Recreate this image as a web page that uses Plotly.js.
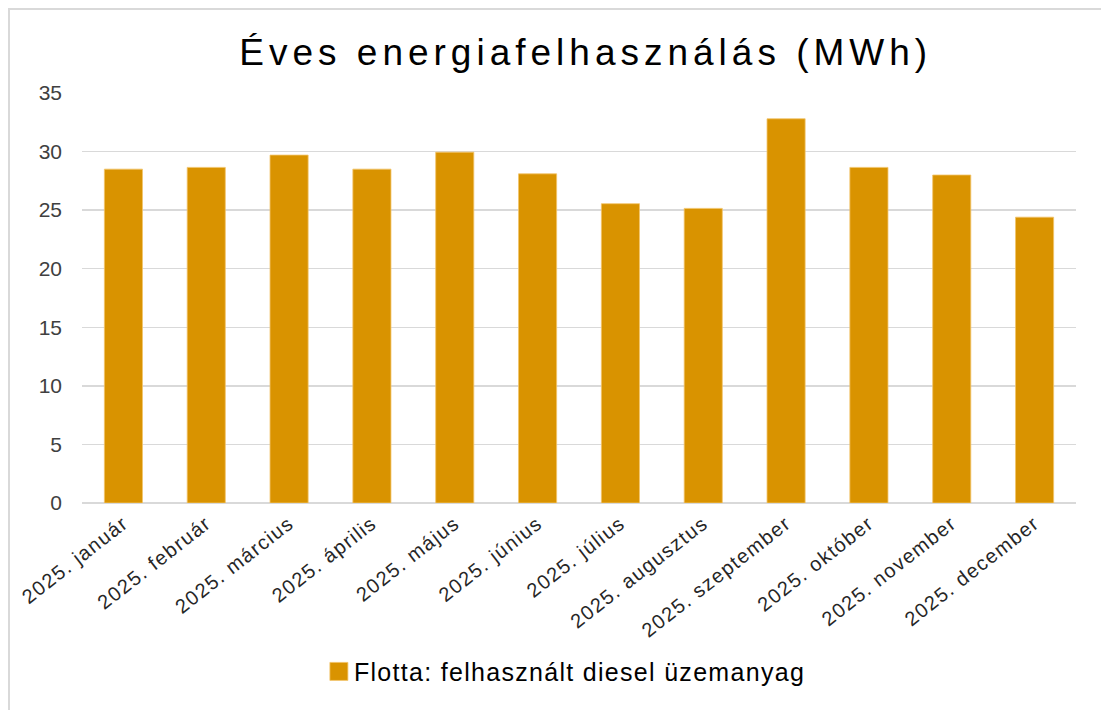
<!DOCTYPE html>
<html>
<head>
<meta charset="utf-8">
<script src="https://cdn.plot.ly/plotly-3.0.1.min.js"></script>
<style>
  html, body { margin: 0; padding: 0; background: #fff; overflow: hidden; }
  #chart { width: 1101px; height: 710px; }
  #chart .gtitle { letter-spacing: 5px; }
  #chart .xtick text { letter-spacing: 1.4px; }
  #chart .legendtext { letter-spacing: 1.3px; }
</style>
</head>
<body>
<div id="chart"></div>
<script>
const months = [
  "2025. január", "2025. február", "2025. március", "2025. április",
  "2025. május", "2025. június", "2025. július", "2025. augusztus",
  "2025. szeptember", "2025. október", "2025. november", "2025. december"
];
const dieselMWh = [28.5, 28.65, 29.7, 28.5, 29.95, 28.1, 25.55, 25.15, 32.8, 28.65, 28.0, 24.4];
const seriesName = "Flotta: felhasznált diesel üzemanyag";
const chartTitle = "Éves energiafelhasználás (MWh)";
const yTicks = [0, 5, 10, 15, 20, 25, 30, 35];

const trace = {
  type: "bar",
  x: months,
  y: dieselMWh,
  name: seriesName,
  marker: { color: "#D99300", line: { color: "#F2C46A", width: 0.8 } },
  showlegend: true,
  hoverinfo: "x+y"
};

// outer frame (left and top edges visible in the reference)
const plotL = 82, plotR = 1076, plotT = 93, plotB = 503;
const fx = (px) => (px - plotL) / (plotR - plotL);
const fy = (py) => (plotB - py) / (plotB - plotT);

const layout = {
  width: 1101,
  height: 710,
  paper_bgcolor: "#ffffff",
  plot_bgcolor: "#ffffff",
  margin: { l: 82, r: 25, t: 93, b: 207 },
  font: { family: "Liberation Sans, Arial, sans-serif", color: "#404040" },
  title: {
    text: chartTitle,
    font: { family: "Liberation Sans, Arial, sans-serif", size: 37, color: "#000000" },
    x: 0.532, xanchor: "center", xref: "container",
    y: 0.927, yref: "container", yanchor: "middle"
  },
  bargap: 0.54,
  xaxis: {
    type: "category",
    tickangle: -38,
    tickfont: { size: 20, color: "#262626" },
    showgrid: false,
    showline: false,
    zeroline: false,
    ticks: "",
    ticklen: 0,
    ticklabelstandoff: 4,
    automargin: false
  },
  yaxis: {
    range: [0, 35],
    tickvals: yTicks,
    ticktext: yTicks.map(String),
    tickfont: { size: 21, color: "#404040" },
    showgrid: true,
    gridcolor: "#d9d9d9",
    gridwidth: 1.5,
    zeroline: true,
    zerolinecolor: "#d9d9d9",
    zerolinewidth: 1.5,
    showline: false,
    ticks: "",
    ticklabelstandoff: 19,
    automargin: false
  },
  legend: {
    orientation: "h",
    x: 0.494, xanchor: "center", xref: "container",
    y: 0.054, yanchor: "middle", yref: "container",
    font: { size: 25, color: "#000000" },
    itemwidth: 30
  },
  shapes: [{
    type: "path",
    xref: "paper", yref: "paper",
    path: "M" + fx(9) + "," + fy(760) + " L" + fx(9) + "," + fy(9) + " L" + fx(1200) + "," + fy(9),
    line: { color: "#d9d9d9", width: 2 },
    layer: "above"
  }]
};

Plotly.newPlot("chart", [trace], layout, { displayModeBar: false, staticPlot: true }).then(function () {
  document.querySelectorAll("#chart .legend [clip-path]").forEach(function (e) { e.removeAttribute("clip-path"); });
  document.querySelectorAll("#chart .legend .legendpoints path").forEach(function (p) {
    p.setAttribute("d", "M9,9H-9V-9H9Z");
  });
  document.querySelectorAll("#chart .legend .legendtext").forEach(function (t) {
    t.setAttribute("x", String(parseFloat(t.getAttribute("x") || "0") - 5));
  });
});
</script>
</body>
</html>
